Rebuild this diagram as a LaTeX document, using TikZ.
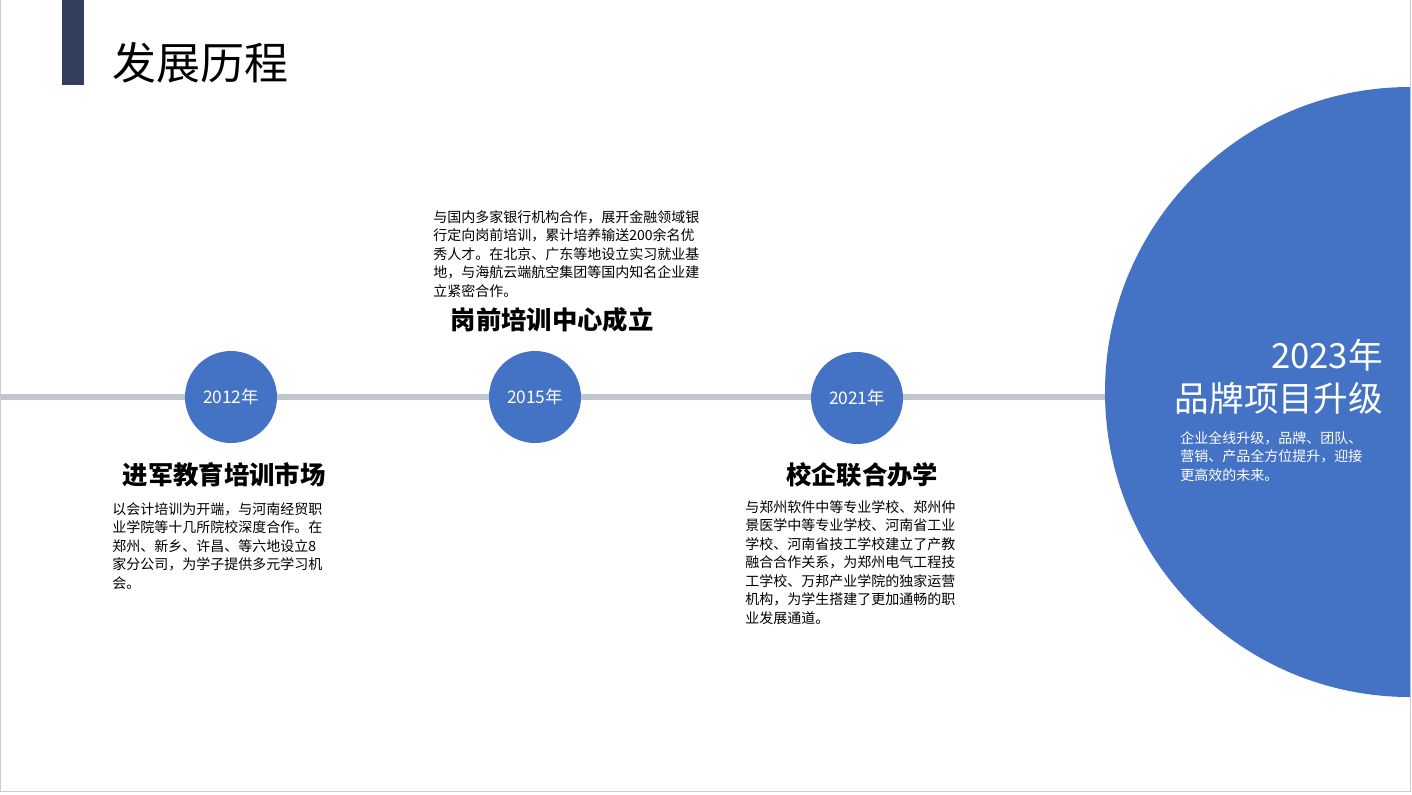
\documentclass[tikz,border=0pt]{standalone}
\usepackage{fontspec}
\setmainfont{Noto Sans CJK SC}
\usetikzlibrary{positioning}
\definecolor{navy}{HTML}{323F5E}
\definecolor{blueish}{HTML}{4472C4}
\definecolor{lineg}{HTML}{C0C6CB}
\begin{document}
\begin{tikzpicture}[x=0.75pt,y=-0.75pt]
\tikzstyle{year}=[circle,fill=blueish,minimum size=69pt,inner sep=0pt,text=white,font=\fontsize{13}{15}\selectfont]
\tikzstyle{head}=[font=\fontsize{19}{22}\selectfont\bfseries]
\tikzstyle{para}=[align=left,inner sep=0pt,font=\fontsize{10.5}{13.9}\selectfont]
\useasboundingbox (0,0) rectangle (1412,794);
\fill[white] (0,0) rectangle (1412,794);
\draw[gray!40] (0.5,0) -- (0.5,791) -- (1410,791) -- (1410,0);
\fill[navy] (62,0) rectangle (84,85);
\node[anchor=west,inner sep=0pt,font=\fontsize{33}{36}\selectfont] (title) at (112,63) {发展历程};
% timeline
\coordinate (l0) at (0,397);
\coordinate (l1) at (1110,397);
\draw[lineg,line width=5pt] (l0) -- (l1);
\begin{scope}
\clip (0,0) rectangle (1410,791);
\fill[blueish] (1410,392) circle (305);
\end{scope}
\node[year] (y1) at (231,397) {2012年};
\node[year] (y2) at (535,397) {2015年};
\node[year] (y3) at (857,398) {2021年};
% texts
\node[head] (h1) at (224,475) {进军教育培训市场};
\node[para,anchor=north west] (p1) at (112,502) {以会计培训为开端，与河南经贸职\\业学院等十几所院校深度合作。在\\郑州、新乡、许昌、等六地设立8\\家分公司，为学子提供多元学习机\\会。};
\node[head] (h2) at (552,320) {岗前培训中心成立};
\node[para,anchor=north west] (p2) at (433,210) {与国内多家银行机构合作，展开金融领域银\\行定向岗前培训，累计培养输送200余名优\\秀人才。在北京、广东等地设立实习就业基\\地，与海航云端航空集团等国内知名企业建\\立紧密合作。};
\node[head] (h3) at (862,475) {校企联合办学};
\node[para,anchor=north west] (p3) at (745,500) {与郑州软件中等专业学校、郑州仲\\景医学中等专业学校、河南省工业\\学校、河南省技工学校建立了产教\\融合合作关系，为郑州电气工程技\\工学校、万邦产业学院的独家运营\\机构，为学生搭建了更加通畅的职\\业发展通道。};
\node[anchor=east,inner sep=0pt,text=white,font=\fontsize{26}{30}\selectfont] (b1) at (1383,355) {2023年};
\node[anchor=east,inner sep=0pt,text=white,font=\fontsize{26}{30}\selectfont] (b2) at (1383,398) {品牌项目升级};
\node[para,anchor=north west,text=white] (b3) at (1180,431) {企业全线升级，品牌、团队、\\营销、产品全方位提升，迎接\\更高效的未来。};
\end{tikzpicture}
\end{document}
